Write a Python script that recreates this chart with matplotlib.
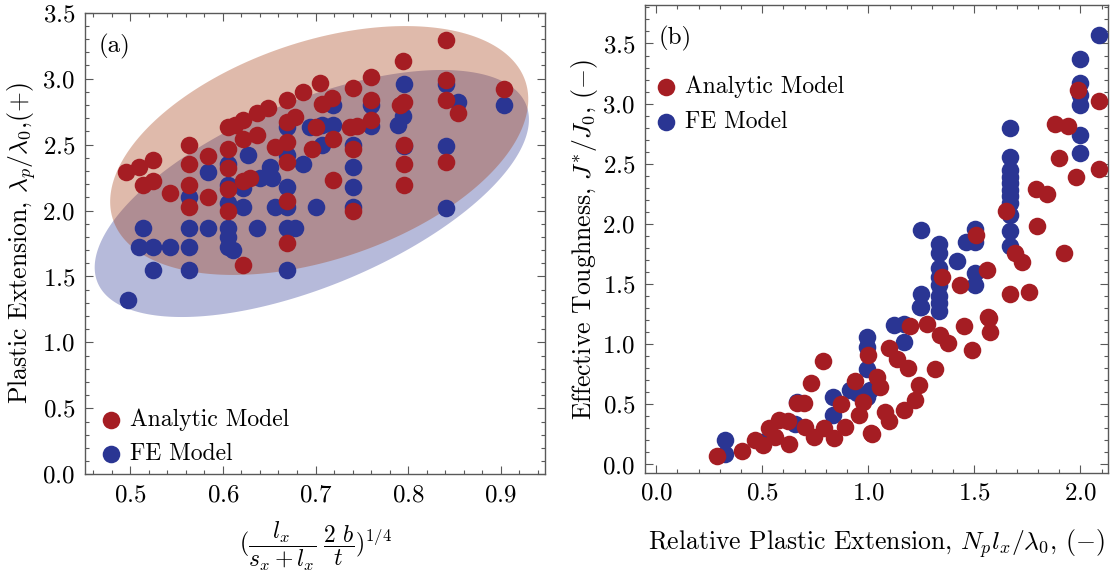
import matplotlib
matplotlib.use("Agg")
import matplotlib.pyplot as plt
from matplotlib.ticker import MultipleLocator
import numpy as np

plt.rcParams['font.family'] = ['cmr10', 'DejaVu Serif']
plt.rcParams['mathtext.fontset'] = 'cm'
plt.rcParams['axes.formatter.use_mathtext'] = True
plt.rcParams['font.size'] = 17

RED = '#A51D23'
BLUE = '#2A3593'
RED_FILL = '#A4370A'

# ---- panel (a): plastic extension vs geometric parameter ----
a_analytic_x = [0.495, 0.509, 0.524, 0.514, 0.524, 0.543, 0.563, 0.563, 0.563, 0.563,
                0.584, 0.584, 0.605, 0.605, 0.605, 0.605, 0.605, 0.613, 0.622, 0.622,
                0.637, 0.622, 0.629, 0.637, 0.649, 0.669, 0.669, 0.678, 0.656, 0.669,
                0.669, 0.669, 0.669, 0.687, 0.696, 0.622, 0.705,
                0.841, 0.795, 0.841, 0.904, 0.760, 0.740, 0.707, 0.718, 0.760, 0.791,
                0.796, 0.841, 0.854, 0.700, 0.737, 0.745, 0.760, 0.719, 0.740, 0.796,
                0.796, 0.796, 0.841, 0.719, 0.740]
a_analytic_y = [2.29, 2.33, 2.38, 2.19, 2.22, 2.13, 2.50, 2.35, 2.19, 2.03,
                2.41, 2.10, 2.63, 2.47, 2.32, 2.16, 2.00, 2.65, 2.69, 2.54,
                2.57, 2.22, 2.25, 2.74, 2.78, 2.84, 2.67, 2.71, 2.48, 2.52,
                2.37, 2.07, 1.75, 2.90, 2.47, 1.59, 2.97,
                3.29, 3.13, 2.99, 2.92, 3.01, 2.93, 2.81, 2.85, 2.84, 2.80,
                2.82, 2.84, 2.74, 2.63, 2.63, 2.64, 2.69, 2.54, 2.47, 2.50,
                2.35, 2.19, 2.37, 2.23, 2.00]
a_fe_x = [0.497, 0.524, 0.563, 0.509, 0.524, 0.543, 0.563, 0.514, 0.563, 0.584,
          0.605, 0.605, 0.611, 0.605, 0.622, 0.637, 0.656, 0.669, 0.669, 0.678,
          0.669, 0.700, 0.563, 0.584, 0.605, 0.605, 0.605, 0.622, 0.627, 0.651,
          0.640, 0.653, 0.669, 0.669, 0.669, 0.687, 0.694,
          0.796, 0.841, 0.904, 0.854, 0.719, 0.760, 0.795, 0.789, 0.707, 0.719,
          0.760, 0.707, 0.740, 0.796, 0.841, 0.740, 0.740, 0.740, 0.841]
a_fe_y = [1.32, 1.55, 1.55, 1.72, 1.72, 1.72, 1.72, 1.87, 1.87, 1.87,
          1.87, 1.72, 1.70, 1.80, 2.03, 1.87, 2.03, 2.03, 1.87, 1.87,
          1.55, 2.03, 2.10, 2.29, 2.35, 2.19, 2.06, 2.17, 2.42, 2.33,
          2.25, 2.25, 2.18, 2.42, 2.63, 2.35, 2.63,
          2.96, 2.96, 2.80, 2.82, 2.80, 2.80, 2.72, 2.65, 2.65, 2.65,
          2.64, 2.50, 2.50, 2.49, 2.49, 2.33, 2.18, 2.03, 2.02]

# ellipse specs: centre (data), semi-axes (screen px), tilt (deg, screen)
ell_center = {'analytic': (0.704, 2.455), 'fe': (0.696, 2.129)}
ell_axes_px = {'analytic': (217.5, 109.0), 'fe': (232.0, 92.6)}
ell_angle = {'analytic': 18.6, 'fe': 22.6}

# ---- panel (b): effective toughness vs relative plastic extension ----
b_analytic_x = [0.286, 0.404, 0.467, 0.506, 0.530, 0.561, 0.577, 0.624, 0.628, 0.664,
                0.695, 0.703, 0.742, 0.730, 0.786, 0.789, 0.840, 0.873, 0.892, 0.939,
                0.954, 0.975, 0.998, 1.014, 1.041, 1.057, 1.017, 1.080, 1.096, 1.096,
                1.135, 1.185, 1.198, 1.277, 1.238, 1.166, 1.222, 1.316, 1.340, 1.374,
                1.450, 1.489, 1.568, 1.575, 1.989, 2.086, 1.879, 1.942, 1.898, 2.086,
                1.977, 1.792, 1.843, 1.651, 1.795, 1.921, 1.690, 1.725, 1.507, 1.560,
                1.347, 1.431, 1.670, 1.759, 1.563]
b_analytic_y = [0.07, 0.11, 0.20, 0.16, 0.30, 0.23, 0.37, 0.36, 0.17, 0.51,
                0.51, 0.31, 0.23, 0.68, 0.86, 0.30, 0.22, 0.50, 0.31, 0.69,
                0.41, 0.52, 0.91, 0.26, 0.73, 0.64, 0.25, 0.44, 0.36, 0.97,
                0.88, 0.80, 1.15, 1.17, 0.66, 0.45, 0.54, 0.79, 1.08, 1.01,
                1.15, 0.95, 1.22, 1.10, 3.11, 3.02, 2.83, 2.81, 2.55, 2.46,
                2.39, 2.29, 2.25, 2.11, 1.98, 1.76, 1.76, 1.68, 1.91, 1.62,
                1.56, 1.49, 1.42, 1.43, 1.23]
b_fe_x = [0.325, 0.325, 0.494, 0.664, 0.656, 0.836, 0.836, 0.915, 0.994, 0.994,
          0.994, 1.009, 0.994, 0.947, 1.119, 1.166, 1.166, 1.245, 1.332,
          2.086, 1.999, 1.999, 1.999, 1.999, 1.999, 1.999,
          1.670, 1.670, 1.670, 1.670, 1.670, 1.670, 1.670, 1.670, 1.670, 1.670, 1.670,
          1.250, 1.332, 1.332, 1.332, 1.332, 1.332, 1.418, 1.460, 1.502, 1.502,
          1.502, 1.502, 1.250, 1.250, 1.332, 1.332]
b_fe_y = [0.20, 0.09, 0.19, 0.52, 0.34, 0.56, 0.41, 0.62, 1.06, 0.98,
          0.79, 0.62, 0.56, 0.59, 1.16, 1.17, 1.02, 1.31, 1.34,
          3.57, 3.37, 3.17, 3.07, 2.99, 2.74, 2.59,
          2.80, 2.56, 2.45, 2.39, 2.34, 2.28, 2.23, 2.17, 2.07, 1.94, 1.82,
          1.95, 1.83, 1.76, 1.63, 1.56, 1.49, 1.69, 1.85, 1.96, 1.85,
          1.59, 1.49, 1.42, 1.31, 1.40, 1.28]

fig = plt.figure(figsize=(11.16, 5.87), dpi=100)
ax1 = fig.add_axes([0.0762, 0.192, 0.4122, 0.7864])
ax2 = fig.add_axes([0.578, 0.1942, 0.4149, 0.7973])


def style_axes(ax):
    ax.tick_params(which='both', direction='in', top=True, right=True,
                   color='0.35', width=0.8, labelsize=18, pad=7)
    ax.tick_params(which='major', length=6)
    ax.tick_params(which='minor', length=3)
    for sp in ax.spines.values():
        sp.set_color('0.35')
        sp.set_linewidth(1.0)


def draw_ellipse(ax, key, color):
    # ellipse defined in screen pixels, mapped back to data units
    fig.canvas.draw()
    bb = ax.get_window_extent()
    x0, x1 = ax.get_xlim()
    y0, y1 = ax.get_ylim()
    sx = (x1 - x0) / bb.width
    sy = (y1 - y0) / bb.height
    a, b = ell_axes_px[key]
    th = np.radians(ell_angle[key])
    t = np.linspace(0, 2 * np.pi, 300)
    dx = a * np.cos(t) * np.cos(th) - b * np.sin(t) * np.sin(th)
    dy = a * np.cos(t) * np.sin(th) + b * np.sin(t) * np.cos(th)
    cx, cy = ell_center[key]
    ax.fill(cx + dx * sx, cy + dy * sy, color=color, alpha=0.34, lw=0, zorder=1)


# panel (a)
ax1.set_xlim(0.451, 0.948)
ax1.set_ylim(0, 3.5)
draw_ellipse(ax1, 'fe', BLUE)
draw_ellipse(ax1, 'analytic', RED_FILL)
ax1.scatter(a_fe_x, a_fe_y, s=160, color=BLUE, lw=0, zorder=3, label='FE Model')
ax1.scatter(a_analytic_x, a_analytic_y, s=160, color=RED, lw=0, zorder=4,
            label='Analytic Model')
ax1.xaxis.set_major_locator(MultipleLocator(0.1))
ax1.xaxis.set_minor_locator(MultipleLocator(0.02))
ax1.yaxis.set_major_locator(MultipleLocator(0.5))
ax1.yaxis.set_minor_locator(MultipleLocator(0.1))
ax1.set_ylabel(r'Plastic Extension, $\lambda_p/\lambda_0$,(+)', fontsize=18.5, labelpad=3)
ax1.set_xlabel(r'$(\dfrac{l_x}{s_x+l_x}\;\dfrac{2\ b}{t})^{1/4}$', fontsize=17, labelpad=10)
ax1.text(0.03, 0.955, '(a)', transform=ax1.transAxes, fontsize=18, va='top')
style_axes(ax1)
h, l = ax1.get_legend_handles_labels()
ax1.legend(h[::-1], l[::-1], loc='lower left', frameon=False, fontsize=17,
           handletextpad=0.0, borderaxespad=0.0, labelspacing=0.5,
           handlelength=1.6, bbox_to_anchor=(-0.005, 0.0))

# panel (b)
ax2.scatter(b_fe_x, b_fe_y, s=160, color=BLUE, lw=0, zorder=3, label='FE Model')
ax2.scatter(b_analytic_x, b_analytic_y, s=160, color=RED, lw=0, zorder=4,
            label='Analytic Model')
ax2.set_xlim(-0.052, 2.13)
ax2.set_ylim(-0.071, 3.82)
ax2.xaxis.set_major_locator(MultipleLocator(0.5))
ax2.xaxis.set_minor_locator(MultipleLocator(0.1))
ax2.yaxis.set_major_locator(MultipleLocator(0.5))
ax2.yaxis.set_minor_locator(MultipleLocator(0.1))
ax2.set_ylabel(r'Effective Toughness, $J^{*}/J_0$, ($-$)', fontsize=18.5, labelpad=2)
ax2.set_xlabel(r'Relative Plastic Extension, $N_p l_x/\lambda_0$, ($-$)', fontsize=18.5,
               labelpad=16)
ax2.text(0.03, 0.955, '(b)', transform=ax2.transAxes, fontsize=18, va='top')
style_axes(ax2)
h, l = ax2.get_legend_handles_labels()
ax2.legend(h[::-1], l[::-1], loc='upper left', frameon=False, fontsize=17,
           handletextpad=0.0, borderaxespad=0.0, labelspacing=0.55,
           handlelength=1.6, bbox_to_anchor=(-0.015, 0.87))

fig.savefig('out.png', dpi=100)
